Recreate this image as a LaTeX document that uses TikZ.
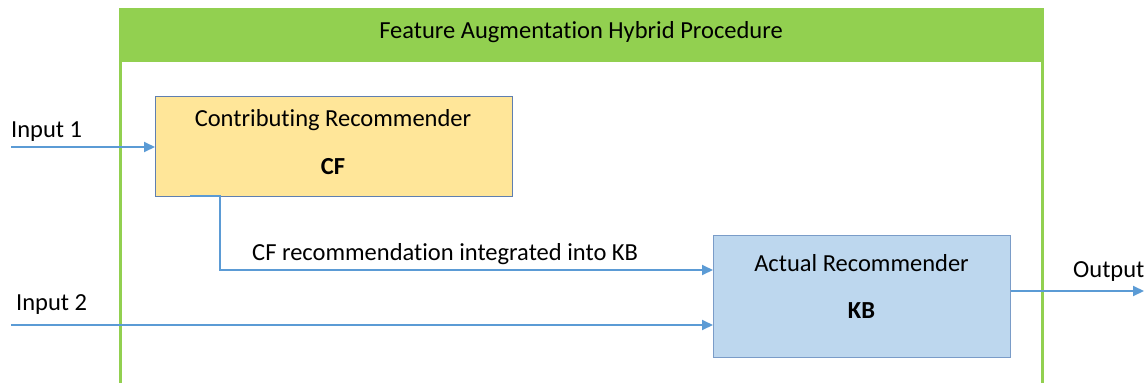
\documentclass[tikz,border=0pt]{standalone}
\usepackage{fontspec}
\setmainfont{Carlito}[Ligatures=NoCommon]
\usetikzlibrary{arrows.meta}
\definecolor{grn}{HTML}{92D050}
\definecolor{arr}{HTML}{5B9BD5}
\definecolor{cffill}{HTML}{FFE699}
\definecolor{cfdraw}{HTML}{5F7FB0}
\definecolor{kbfill}{HTML}{BDD7EE}
\definecolor{kbdraw}{HTML}{7A9CC8}
\tikzset{
  conn/.style={draw=arr, line width=2pt, -{Triangle[length=11pt,width=10pt]}},
  lbl/.style={font=\fontsize{24.5}{29}\selectfont, inner sep=0pt, anchor=base},
  boxstyle/.style={inner sep=0pt, anchor=north west, line width=1pt},
}
\begin{document}
\begin{tikzpicture}[x=1pt,y=-1pt]
\useasboundingbox (0,0) rectangle (1144,383);
% container
\fill[grn] (119,8) rectangle (1044,62);
\draw[grn, line width=3pt] (120.5,62) -- (120.5,383);
\draw[grn, line width=3pt] (1042.5,62) -- (1042.5,383);
\node[lbl] (title) at (581,38.5) {Feature Augmentation Hybrid Procedure};
% boxes
\node[boxstyle, draw=cfdraw, fill=cffill, minimum width=357pt, minimum height=100pt] (cf) at (155,96) {};
\node[lbl] (cft) at (333,126) {Contributing Recommender};
\node[lbl] (cfb) at (333,174) {\textbf{CF}};
\node[boxstyle, draw=kbdraw, fill=kbfill, minimum width=297pt, minimum height=122pt] (kb) at (713,235) {};
\node[lbl] (kbt) at (861.5,271.5) {Actual Recommender};
\node[lbl] (kbb) at (861.5,318) {\textbf{KB}};
% coordinates
\coordinate (in1) at (11,147);
\coordinate (in2) at (11,325);
\coordinate (cfout) at (190,196);
\coordinate (bend) at (220,196);
\coordinate (out) at (1144,291);
% labels
\node[lbl, anchor=base west] (l1) at (11,137.5) {Input 1};
\node[lbl, anchor=base west] (l2) at (16,310) {Input 2};
\node[lbl, anchor=base west] (l3) at (252,260) {CF recommendation integrated into KB};
\node[lbl, anchor=base west] (l4) at (1073,277) {Output};
% connectors
\draw[conn] (in1) -- (cf.west |- in1);
\draw[conn] (in2) -- (kb.west |- in2);
\draw[conn] (cfout) -- (bend) -- (220,270) -- (kb.west |- 0,270);
\draw[conn] (kb.east |- out) -- (out);
\end{tikzpicture}
\end{document}
